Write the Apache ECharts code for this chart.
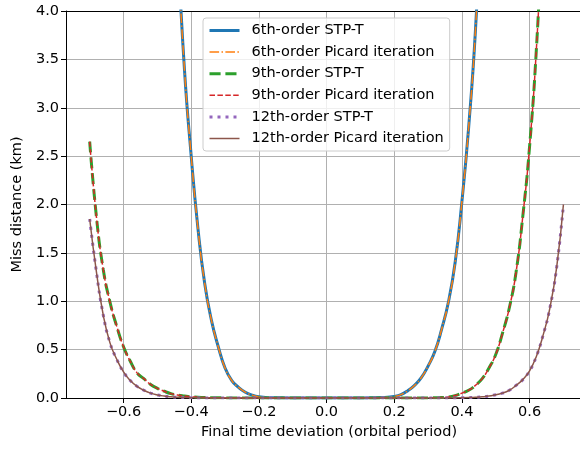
<!DOCTYPE html>
<html>
<head>
<meta charset="utf-8">
<script src="https://cdn.jsdelivr.net/npm/echarts@6/dist/echarts.min.js"></script>
<style>
  html, body { margin: 0; padding: 0; background: #fff; }
  #chart { width: 580px; height: 449px; }
</style>
</head>
<body>
<div id="chart"></div>
<script>
// final time deviation, in orbital periods
const deviation = [
  -0.70, -0.68, -0.66, -0.64, -0.62, -0.60, -0.58, -0.56, -0.54, -0.52,
  -0.50, -0.48, -0.46, -0.44, -0.42, -0.40, -0.38, -0.36, -0.34, -0.32,
  -0.30, -0.28, -0.26, -0.24, -0.22, -0.20, -0.18, -0.16, -0.14, -0.12,
  -0.10, -0.08, -0.06, -0.04, -0.02, 0.00, 0.02, 0.04, 0.06, 0.08,
  0.10, 0.12, 0.14, 0.16, 0.18, 0.20, 0.22, 0.24, 0.26, 0.28,
  0.30, 0.32, 0.34, 0.36, 0.38, 0.40, 0.42, 0.44, 0.46, 0.48,
  0.50, 0.52, 0.54, 0.56, 0.58, 0.60, 0.62, 0.64, 0.66, 0.68, 0.70
]

// miss distance (km); STP-T and Picard curves lie on top of each other
const sixthOrder = [
  null, null, null, null, null, null, null, null, null, null,
  null, null, 6.6, 4.7, 3.4, 2.5, 1.75, 1.18, 0.8, 0.53,
  0.31, 0.18, 0.11, 0.06, 0.03, 0.012, 0.006, 0.003, 0.002, 0.001,
  0, 0, 0, 0, 0, 0, 0, 0, 0, 0,
  0, 0.001, 0.002, 0.004, 0.008, 0.015, 0.035, 0.075, 0.13, 0.21,
  0.33, 0.48, 0.71, 0.99, 1.4, 2.03, 2.8, 3.8, 5.3, null,
  null, null, null, null, null, null, null, null, null, null, null
]
const ninthOrder = [
  2.65, 1.87, 1.33, 0.99, 0.74, 0.53, 0.38, 0.26, 0.2, 0.14,
  0.1, 0.07, 0.045, 0.03, 0.02, 0.012, 0.008, 0.005, 0.003, 0.002,
  0.001, 0, 0, 0, 0, 0, 0, 0, 0, 0,
  0, 0, 0, 0, 0, 0, 0, 0, 0, 0,
  0, 0, 0, 0, 0, 0, 0, 0, 0, 0,
  0.001, 0.002, 0.004, 0.01, 0.025, 0.05, 0.08, 0.13, 0.2, 0.31,
  0.45, 0.67, 0.93, 1.3, 1.88, 2.6, 3.6, 5.0, null, null, null
]
const twelfthOrder = [
  1.85, 1.3, 0.86, 0.57, 0.4, 0.27, 0.18, 0.12, 0.08, 0.05,
  0.032, 0.02, 0.012, 0.007, 0.004, 0.002, 0.001, 0, 0, 0,
  0, 0, 0, 0, 0, 0, 0, 0, 0, 0,
  0, 0, 0, 0, 0, 0, 0, 0, 0, 0,
  0, 0, 0, 0, 0, 0, 0, 0, 0, 0,
  0, 0, 0, 0, 0.001, 0.002, 0.004, 0.007, 0.012, 0.02,
  0.034, 0.05, 0.08, 0.13, 0.19, 0.28, 0.43, 0.65, 0.93, 1.35, 2.0
]

const xTicks = [-0.6, -0.4, -0.2, 0.0, 0.2, 0.4, 0.6]

const font = 'DejaVu Sans'
const fontSize = 14.5
const toPairs = arr => deviation.map((t, i) => [t, arr[i]])
const fmt = v => (v < 0 ? '\u2212' : '') + Math.abs(v).toFixed(1)

const styles = [
  { name: '6th-order STP-T', values: sixthOrder, color: '#1f77b4', width: 3, type: 'solid' },
  { name: '6th-order Picard iteration', values: sixthOrder, color: '#ff7f0e', width: 1.5, type: [9.6, 2.4, 1.5, 2.4] },
  { name: '9th-order STP-T', values: ninthOrder, color: '#2ca02c', width: 3, type: [11.1, 4.8] },
  { name: '9th-order Picard iteration', values: ninthOrder, color: '#d62728', width: 1.5, type: [5.5, 2.4] },
  { name: '12th-order STP-T', values: twelfthOrder, color: '#9467bd', width: 3, type: [3, 5] },
  { name: '12th-order Picard iteration', values: twelfthOrder, color: '#8c564b', width: 1.5, type: 'solid' }
]

const chart = echarts.init(document.getElementById('chart'))
// the right spine falls outside the picture, so the x range stops at the edge
const option = {
  animation: false,
  backgroundColor: '#fff',
  grid: { left: 66, right: 0, top: 11, bottom: 51 },
  legend: {
    orient: 'vertical',
    left: 203, top: 18,
    itemWidth: 30, itemHeight: 14, itemGap: 6.6,
    padding: [5, 6, 5, 5],
    backgroundColor: 'rgba(255,255,255,0.8)',
    borderColor: '#ccc', borderWidth: 1, borderRadius: 3,
    itemStyle: { opacity: 0 },
    textStyle: { fontFamily: font, fontSize: fontSize, color: '#000', padding: [0, 0, 0, 7] },
    data: styles.map(s => ({
      name: s.name,
      lineStyle: { color: s.color, width: s.width, type: s.type }
    }))
  },
  xAxis: [{
    type: 'value',
    min: -0.77, max: 0.749,
    splitNumber: 7,
    name: 'Final time deviation (orbital period)',
    nameLocation: 'middle', nameGap: 26,
    nameTextStyle: { fontFamily: font, fontSize: fontSize, color: '#000', padding: [0, 0, 0, 12] },
    axisLine: { onZero: false, lineStyle: { color: '#000', width: 1 } },
    axisTick: { show: true, length: 5, customValues: xTicks, lineStyle: { color: '#000' } },
    axisLabel: {
      customValues: xTicks,
      margin: 7, fontFamily: font, fontSize: fontSize, color: '#000', formatter: fmt
    },
    splitLine: { show: true, lineStyle: { color: '#b0b0b0', width: 1 } }
  }, {
    type: 'value',
    position: 'top',
    min: -0.77, max: 0.749,
    axisLine: { onZero: false, lineStyle: { color: '#000', width: 1 } },
    axisTick: { show: false },
    axisLabel: { show: false },
    splitLine: { show: false }
  }],
  yAxis: {
    type: 'value',
    min: 0, max: 4, interval: 0.5,
    name: 'Miss distance (km)',
    nameLocation: 'middle', nameGap: 40,
    nameTextStyle: { fontFamily: font, fontSize: fontSize, color: '#000' },
    axisLine: { show: true, onZero: false, lineStyle: { color: '#000', width: 1 } },
    axisTick: { show: true, length: 5, lineStyle: { color: '#000' } },
    axisLabel: { margin: 7, fontFamily: font, fontSize: fontSize, color: '#000', formatter: v => v.toFixed(1) },
    splitLine: { show: true, lineStyle: { color: '#b0b0b0', width: 1 } }
  },
  series: styles.map(s => ({
    name: s.name,
    type: 'line',
    data: toPairs(s.values),
    showSymbol: false,
    symbol: 'none',
    smooth: 0.5,
    clip: true,
    lineStyle: { color: s.color, width: s.width, type: s.type },
    itemStyle: { color: s.color }
  }))
}
chart.setOption(option)
</script>
</body>
</html>
